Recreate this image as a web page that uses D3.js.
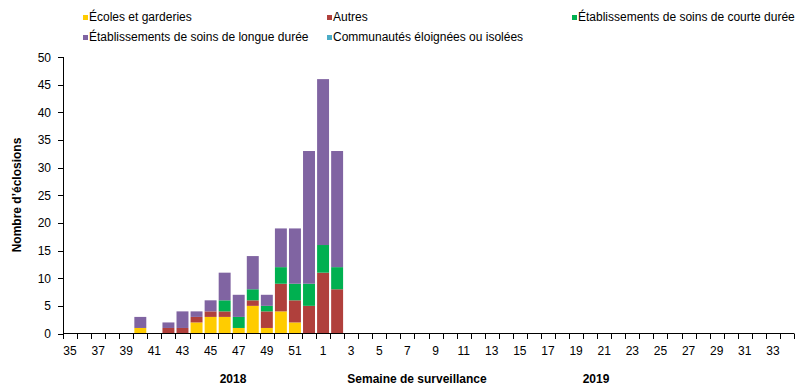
<!DOCTYPE html>
<html><head><meta charset="utf-8">
<script src="https://cdn.jsdelivr.net/npm/d3@7"></script>
<style>body{margin:0;background:#fff;} text{font-family:"Liberation Sans",Arial,sans-serif;}</style>
</head><body>
<svg id="c" width="805" height="386"></svg>
<script>
const weeks = ["35","36","37","38","39","40","41","42","43","44","45","46","47","48","49","50","51","52",
  "1","2","3","4","5","6","7","8","9","10","11","12","13","14","15","16","17","18","19","20","21","22","23","24","25","26","27","28","29","30","31","32","33","34"];
const seriesNames = ["Écoles et garderies","Autres","Établissements de soins de courte durée","Établissements de soins de longue durée","Communautés éloignées ou isolées"];
const colors = ["#FFCC00","#B0403C","#00B050","#8064A2","#4BACC6"];
// values for weeks 35..52 then 1..2 (rest zero)
const ecoles   = [0,0,0,0,0,1,0,0,0,2,3,3,1,5,1,4,2,0,0,0];
const autres   = [0,0,0,0,0,0,0,1,1,1,1,1,0,1,3,5,4,5,11,8];
const courte   = [0,0,0,0,0,0,0,0,0,0,0,2,2,2,1,3,3,4,5,4];
const longue   = [0,0,0,0,0,2,0,1,3,1,2,5,4,6,2,7,10,24,30,21];
const communautes = [0,0,0,0,0,0,0,0,0,0,0,0,0,0,0,0,0,0,0,0];
const yTicks = [0,5,10,15,20,25,30,35,40,45,50];

const arrs = [ecoles, autres, courte, longue, communautes];
const keys = ["s0","s1","s2","s3","s4"];
const data = weeks.map((w,i)=>{const o={week:w}; arrs.forEach((a,k)=>o[keys[k]]=a[i]||0); return o;});

const svg = d3.select("#c");
const x = d3.scaleBand().domain(weeks).range([63,794]).paddingInner(0.15).paddingOuter(0.075);
const y = d3.scaleLinear().domain([0,50]).range([333.5,57]);

const stack = d3.stack().keys(keys)(data);
svg.append("g").selectAll("g").data(stack).join("g").attr("fill",(d,i)=>colors[i])
  .selectAll("rect").data(d=>d.filter(p=>p[1]>p[0])).join("rect")
  .attr("x",d=>x(d.data.week)).attr("width",x.bandwidth())
  .attr("y",d=>y(d[1])).attr("height",d=>y(d[0])-y(d[1]));

// Y axis
const ya = svg.append("g");
ya.append("line").attr("x1",63.5).attr("x2",63.5).attr("y1",y(50)).attr("y2",y(0)).attr("stroke","#000");
yTicks.forEach(t=>{
  ya.append("line").attr("x1",58).attr("x2",63.5).attr("y1",Math.round(y(t))+0.5).attr("y2",Math.round(y(t))+0.5).attr("stroke","#000");
  ya.append("text").attr("x",51).attr("y",y(t)+4.5).attr("text-anchor","end").attr("font-size",12).text(t);
});
// X axis
const xa = svg.append("g");
xa.append("line").attr("x1",63).attr("x2",794).attr("y1",333.5).attr("y2",333.5).attr("stroke","#000");
for(let i=0;i<=weeks.length;i++){
  const xx = Math.round(63 + i*(731/weeks.length))+0.5;
  xa.append("line").attr("x1",xx).attr("x2",xx).attr("y1",333.5).attr("y2",339).attr("stroke","#000");
}
weeks.forEach((w,i)=>{ if(i%2===0) xa.append("text").attr("x",x(w)+x.bandwidth()/2).attr("y",355).attr("text-anchor","middle").attr("font-size",12).text(w); });

svg.append("text").attr("x",233).attr("y",383).attr("text-anchor","middle").attr("font-size",12).attr("font-weight","bold").text("2018");
svg.append("text").attr("x",417).attr("y",383).attr("text-anchor","middle").attr("font-size",12).attr("font-weight","bold").text("Semaine de surveillance");
svg.append("text").attr("x",596).attr("y",383).attr("text-anchor","middle").attr("font-size",12).attr("font-weight","bold").text("2019");
svg.append("text").attr("transform","translate(21,195) rotate(-90)").attr("text-anchor","middle").attr("font-size",12).attr("font-weight","bold").text("Nombre d’éclosions");

// Legend
const legPos = [[82,18],[326,18],[571,18],[82,38],[326,38]];
seriesNames.forEach((n,i)=>{
  const [lx,ly]=legPos[i];
  svg.append("rect").attr("x",lx+1).attr("y",ly-3).attr("width",5).attr("height",5).attr("fill",colors[i]);
  svg.append("text").attr("x",lx+7).attr("y",ly+3).attr("font-size",12).text(n);
});
</script>
</body></html>
